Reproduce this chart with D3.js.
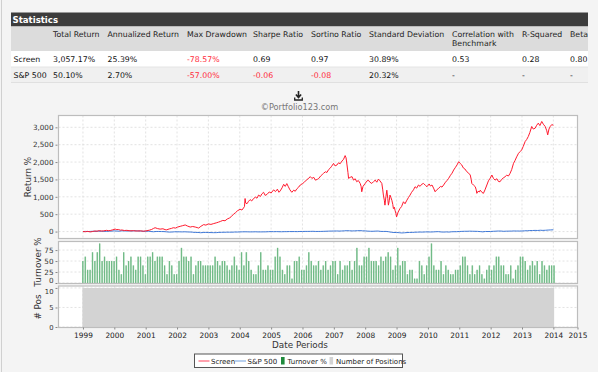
<!DOCTYPE html>
<html>
<head>
<meta charset="utf-8">
<script src="https://cdn.jsdelivr.net/npm/d3@7"></script>
<style>
  body { margin: 0; background: #f4f4f4; }
  svg { display: block; font-family: "DejaVu Sans", Verdana, sans-serif; }
</style>
</head>
<body>
<svg width="598" height="372"></svg>
<script>
// Statistics table
const statColumns = ["Total Return", "Annualized Return", "Max Drawdown", "Sharpe Ratio", "Sortino Ratio",
    "Standard Deviation", "Correlation with|Benchmark", "R-Squared", "Beta"]
const statRows = ["Screen", "S&P 500"]
const screenStats = ["3,057.17%", "25.39%", "-78.57%", "0.69", "0.97", "30.89%", "0.53", "0.28", "0.80"]
const spStats = ["50.10%", "2.70%", "-57.00%", "-0.06", "-0.08", "20.32%", "-", "-", "-"]

// Screen return % (decimal year, value)
const screenYears = [
    1999.00, 1999.08, 1999.15, 1999.23, 1999.30, 1999.38, 1999.45, 1999.52, 1999.60, 1999.66,
    1999.75, 1999.82, 1999.87, 1999.95, 2000.03, 2000.08, 2000.13, 2000.19, 2000.24, 2000.32,
    2000.40, 2000.50, 2000.61, 2000.70, 2000.83, 2000.93, 2001.04, 2001.12, 2001.19, 2001.25,
    2001.30, 2001.38, 2001.46, 2001.55, 2001.62, 2001.67, 2001.75, 2001.82, 2001.88, 2001.95,
    2002.02, 2002.10, 2002.18, 2002.26, 2002.33, 2002.42, 2002.50, 2002.58, 2002.64, 2002.69,
    2002.76, 2002.85, 2002.92, 2003.00, 2003.08, 2003.17, 2003.25, 2003.32, 2003.38, 2003.46,
    2003.53, 2003.60, 2003.67, 2003.73, 2003.80, 2003.86, 2003.93, 2004.01, 2004.07, 2004.12,
    2004.15, 2004.17, 2004.19, 2004.23, 2004.28, 2004.33, 2004.38, 2004.44, 2004.50, 2004.55,
    2004.60, 2004.66, 2004.70, 2004.76, 2004.81, 2004.87, 2004.94, 2005.00, 2005.08, 2005.14,
    2005.20, 2005.25, 2005.29, 2005.35, 2005.40, 2005.45, 2005.50, 2005.55, 2005.60, 2005.66,
    2005.72, 2005.77, 2005.82, 2005.88, 2005.93, 2006.00, 2006.06, 2006.12, 2006.18, 2006.25,
    2006.30, 2006.36, 2006.41, 2006.47, 2006.52, 2006.58, 2006.63, 2006.67, 2006.73, 2006.78,
    2006.83, 2006.88, 2006.93, 2006.99, 2007.04, 2007.10, 2007.15, 2007.20, 2007.26, 2007.31,
    2007.36, 2007.39, 2007.42, 2007.45, 2007.47, 2007.52, 2007.58, 2007.63, 2007.68, 2007.73,
    2007.78, 2007.84, 2007.87, 2007.89, 2007.93, 2008.00, 2008.05, 2008.10, 2008.15, 2008.21,
    2008.27, 2008.32, 2008.37, 2008.42, 2008.47, 2008.53, 2008.56, 2008.58, 2008.61, 2008.63,
    2008.66, 2008.69, 2008.72, 2008.74, 2008.77, 2008.79, 2008.82, 2008.85, 2008.88, 2008.90,
    2008.93, 2008.95, 2008.98, 2009.00, 2009.05, 2009.11, 2009.16, 2009.22, 2009.27, 2009.33,
    2009.38, 2009.43, 2009.48, 2009.54, 2009.59, 2009.64, 2009.70, 2009.75, 2009.80, 2009.86,
    2009.92, 2009.97, 2010.04, 2010.08, 2010.13, 2010.18, 2010.23, 2010.28, 2010.34, 2010.40,
    2010.45, 2010.50, 2010.56, 2010.61, 2010.66, 2010.72, 2010.77, 2010.82, 2010.88, 2010.93,
    2010.98, 2011.03, 2011.08, 2011.13, 2011.18, 2011.24, 2011.30, 2011.35, 2011.38, 2011.40,
    2011.45, 2011.51, 2011.54, 2011.56, 2011.60, 2011.64, 2011.67, 2011.72, 2011.77, 2011.82,
    2011.88, 2011.93, 2011.99, 2012.04, 2012.09, 2012.14, 2012.20, 2012.25, 2012.30, 2012.35,
    2012.40, 2012.46, 2012.51, 2012.57, 2012.62, 2012.67, 2012.73, 2012.78, 2012.83, 2012.89,
    2012.94, 2012.99, 2013.04, 2013.10, 2013.15, 2013.20, 2013.25, 2013.31, 2013.36, 2013.42,
    2013.47, 2013.52, 2013.57, 2013.63, 2013.68, 2013.74, 2013.79, 2013.82, 2013.86, 2013.90,
    2013.95, 2014.00]
const screenValues = [
    0, -5, 5, -10, 0, 15, 10, 25, 15, 20,
    35, 25, 30, 50, 70, 55, 60, 40, 45, 30,
    35, 20, 25, 15, 20, 10, 25, 40, 60, 90,
    110, 85, 70, 80, 55, 50, 75, 90, 110, 100,
    130, 150, 170, 190, 160, 130, 145, 130, 115, 100,
    150, 200, 185, 220, 205, 230, 250, 270, 290, 320,
    310, 360, 390, 430, 500, 540, 600, 640, 620, 680,
    720, 950, 820, 800, 870, 920, 880, 950, 990, 960,
    1050, 1010, 1080, 1130, 1040, 1070, 1140, 1110, 1200, 1150,
    1220, 1130, 1170, 1260, 1360, 1300, 1380, 1290, 1200, 1130,
    1190, 1160, 1230, 1280, 1340, 1380, 1420, 1480, 1520, 1580,
    1530, 1560, 1480, 1500, 1530, 1600, 1640, 1675, 1720, 1700,
    1780, 1820, 1880, 1960, 1890, 1916, 1980, 1950, 2030, 2080,
    2186, 2120, 1916, 1700, 1530, 1560, 1580, 1480, 1520, 1434,
    1470, 1385, 1300, 1145, 1300, 1385, 1450, 1480, 1420, 1385,
    1440, 1480, 1420, 1510, 1460, 1385, 1200, 1050, 900, 760,
    1000, 1190, 950, 760, 900, 1050, 980, 900, 780, 660,
    700, 615, 520, 422, 560, 664, 720, 857, 800, 904,
    980, 1048, 1130, 1200, 1290, 1250, 1340, 1300, 1360, 1385,
    1330, 1290, 1370, 1310, 1340, 1250, 1145, 1200, 1240, 1300,
    1280, 1340, 1420, 1470, 1530, 1620, 1680, 1770, 1850, 1920,
    2010, 1960, 1916, 1830, 1800, 1723, 1680, 1627, 1500, 1385,
    1340, 1290, 1200, 1100, 1160, 1140, 1190, 1130, 1100, 1200,
    1340, 1460, 1540, 1627, 1530, 1480, 1520, 1440, 1434, 1500,
    1540, 1578, 1620, 1600, 1675, 1780, 1964, 2050, 2150, 2253,
    2300, 2349, 2450, 2590, 2650, 2734, 2850, 3023, 2950, 2975,
    3060, 3120, 3050, 3168, 3090, 3023, 2900, 2782, 2950, 3023,
    3080, 3057]

// S&P 500 return %, monthly from Jan 1999
const spStart = 1999
const spValues = [0, 4, 1, 5, 9, 6, 12, 8, 7, 4, 11, 13,
    20, 13, 11, 22, 18, 16, 18, 16, 24, 17, 16, 7,
    7, 11, 1, -6, 2, 2, 0, -1, -8, -15, -14, -7,
    -7, -8, -10, -7, -12, -13, -19, -26, -25, -34, -28, -24,
    -28, -30, -32, -31, -25, -22, -21, -19, -18, -19, -14, -14,
    -10, -8, -7, -8, -10, -9, -7, -10, -10, -9, -8, -4,
    -1, -4, -2, -4, -6, -3, -3, 0, -1, 0, -2, 2,
    2, 4, 4, 5, 7, 3, 3, 4, 6, 9, 12, 14,
    15, 17, 14, 16, 21, 25, 22, 18, 20, 24, 26, 21,
    19, 12, 8, 8, 13, 14, 4, 3, 4, -5, -21, -27,
    -27, -33, -40, -35, -29, -25, -25, -20, -17, -14, -16, -11,
    -9, -13, -10, -5, -3, -11, -16, -10, -15, -7, -4, -4,
    2, 5, 8, 8, 11, 9, 7, 5, -1, -8, 2, 1,
    2, 7, 11, 15, 14, 7, 11, 12, 14, 17, 15, 15,
    16, 22, 23, 28, 30, 33, 31, 37, 33, 37, 43, 47,
    50]

// Turnover % per 4-week rebalance period from Jan 1999
const periodDays = 28
const turnoverValues = [
    50, 60, 30, 30, 70, 50, 70, 90, 50, 60,
    50, 50, 50, 50, 60, 30, 20, 70, 40, 50,
    60, 40, 30, 60, 60, 40, 20, 60, 60, 70,
    50, 60, 60, 60, 40, 20, 50, 40, 20, 20,
    50, 80, 60, 60, 50, 60, 20, 40, 50, 50,
    40, 40, 40, 40, 40, 60, 50, 40, 50, 50,
    40, 30, 40, 60, 40, 30, 70, 40, 70, 50,
    30, 20, 20, 40, 70, 30, 30, 40, 30, 30,
    60, 80, 60, 30, 20, 40, 40, 10, 50, 50,
    60,
    30, 30, 40, 70, 50, 40, 40, 50, 30,
    40, 50, 30, 40, 50, 50, 20, 50, 30, 40,
    40, 50, 30, 50, 80, 40, 40, 60, 60, 80,
    50, 50, 50, 40, 60, 50, 60, 70, 60, 30,
    40, 80, 40, 50, 50, 20, 30, 30, 10, 10,
    50, 40, 20, 40, 60, 90, 40, 30, 30, 50,
    20, 40, 30, 20, 20, 30, 30, 40, 60,
    60, 40, 20, 40, 20, 30, 40, 20, 10, 30,
    40, 30, 40, 60, 60, 40, 40, 20, 20, 40,
    10, 30, 40, 60, 60, 50, 30, 40, 50,
    40, 50, 20, 50, 40, 30, 40, 40, 40]
const positionsValue = 10

const xTickYears = d3.range(1999, 2015)
const legendItems = [
    { label: "Screen", type: "line", color: "#ff8a98" },
    { label: "S&P 500", type: "line", color: "#a8c4ea" },
    { label: "Turnover %", type: "box", color: "#1f8a3c" },
    { label: "Number of Positions", type: "box", color: "#d3d3d3" }
]

const svg = d3.select("svg")

// page frame
svg.append("line").attr("x1", 1.5).attr("x2", 1.5).attr("y1", 0).attr("y2", 372)
    .attr("stroke", "#d0d0d0")

// ---------- statistics table ----------
const tableLeft = 11, tableRight = 588
const colX = [53, 107.5, 187, 253, 311, 369, 452, 522, 570]
const table = svg.append("g")

table.append("rect").attr("x", tableLeft).attr("y", 12.5).attr("width", tableRight - tableLeft).attr("height", 14)
    .attr("fill", "#3c3c3c")
table.append("text").attr("x", 12.5).attr("y", 22.8).text("Statistics")
    .attr("fill", "white").attr("font-weight", "bold").attr("font-size", "8.6px")
table.append("rect").attr("x", tableLeft).attr("y", 26.5).attr("width", tableRight - tableLeft).attr("height", 24.5)
    .attr("fill", "#dcdcdc")
table.append("rect").attr("x", tableLeft).attr("y", 51).attr("width", tableRight - tableLeft).attr("height", 16)
    .attr("fill", "#ffffff")
table.append("rect").attr("x", tableLeft).attr("y", 67).attr("width", tableRight - tableLeft).attr("height", 15.5)
    .attr("fill", "#f0f0f0")
table.append("line").attr("x1", tableLeft).attr("x2", tableRight).attr("y1", 67).attr("y2", 67).attr("stroke", "#e4e4e4")
table.append("line").attr("x1", tableLeft).attr("x2", tableRight).attr("y1", 82.5).attr("y2", 82.5).attr("stroke", "#e0e0e0")

statColumns.forEach(function(c, i) {
    c.split("|").forEach(function(part, j) {
        table.append("text").attr("x", colX[i]).attr("y", 36.8 + j * 9.4).text(part)
            .attr("font-size", "7.8px").attr("fill", "#222")
    })
})
const rowY = [62, 77.5]
;[screenStats, spStats].forEach(function(vals, r) {
    table.append("text").attr("x", 13.5).attr("y", rowY[r]).text(statRows[r])
        .attr("font-size", "7.8px").attr("fill", "#111")
    vals.forEach(function(v, i) {
        table.append("text").attr("x", colX[i]).attr("y", rowY[r]).text(v)
            .attr("font-size", "7.8px")
            .attr("fill", v.startsWith("-") && v.length > 1 ? "#ff2a3a" : "#111")
    })
})

// ---------- download icon + copyright ----------
const icon = svg.append("g").attr("transform", "translate(298.5, 91)")
icon.append("path").attr("d", "M0,0 V6 M-2.6,3.6 L0,6.6 L2.6,3.6").attr("stroke", "#222")
    .attr("stroke-width", 1.6).attr("fill", "none")
icon.append("path").attr("d", "M-3.8,6.5 V9 H3.8 V6.5").attr("stroke", "#222").attr("stroke-width", 1.3).attr("fill", "none")
svg.append("text").attr("x", 299.5).attr("y", 110).attr("text-anchor", "middle")
    .text("\u00A9Portfolio123.com").attr("font-size", "8.2px").attr("fill", "#777")

// ---------- chart ----------
const left = 58.5, right = 577.5
const x = d3.scaleLinear().domain([1998.22, 2014.77]).range([left, right])

const panels = {
    ret: { top: 115.5, bottom: 238.5 },
    turn: { top: 241.5, bottom: 283.5 },
    pos: { top: 286, bottom: 327.5 }
}
const yRet = d3.scaleLinear().domain([-200, 3340]).range([panels.ret.bottom, panels.ret.top])
const yTurn = d3.scaleLinear().domain([0, 94.5]).range([283, panels.turn.top])
const yPos = d3.scaleLinear().domain([0, 10.5]).range([327, panels.pos.top])

const xTicks = xTickYears.concat([x.domain()[1]])

function drawPanel(p, yScale, yTicks, fmt) {
    const g = svg.append("g")
    g.append("rect").attr("x", left).attr("y", p.top).attr("width", right - left).attr("height", p.bottom - p.top)
        .attr("fill", "white")
    // grid
    g.selectAll(".vg").data(xTickYears).enter().append("line")
        .attr("x1", d => x(d)).attr("x2", d => x(d)).attr("y1", p.top).attr("y2", p.bottom)
        .attr("stroke", "#dcdcdc").attr("stroke-width", 0.8).attr("stroke-dasharray", "2,2")
    g.selectAll(".hg").data(yTicks).enter().append("line")
        .attr("x1", left).attr("x2", right).attr("y1", d => yScale(d)).attr("y2", d => yScale(d))
        .attr("stroke", "#dcdcdc").attr("stroke-width", 0.8).attr("stroke-dasharray", "2,2")
    // y axis
    const ax = svg.append("g").attr("transform", "translate(" + (left - 1) + ",0)")
        .call(d3.axisLeft(yScale).tickValues(yTicks).tickFormat(fmt).tickSize(2).tickPadding(2))
    ax.select(".domain").remove()
    ax.selectAll("line").attr("stroke", "#888")
    ax.selectAll("text").attr("font-size", "7.2px").attr("fill", "#333").attr("font-family", "DejaVu Sans")
    return ax
}

function drawFrame(p) {
    svg.append("rect").attr("x", left).attr("y", p.top).attr("width", right - left).attr("height", p.bottom - p.top)
        .attr("fill", "none").attr("stroke", "#bdbdbd").attr("stroke-width", 1.2)
}

// Return panel
drawPanel(panels.ret, yRet, [0, 500, 1000, 1500, 2000, 2500, 3000], d3.format(","))
svg.append("clipPath").attr("id", "retClip").append("rect")
    .attr("x", left).attr("y", panels.ret.top).attr("width", right - left).attr("height", panels.ret.bottom - panels.ret.top)

const spPoints = spValues.map((v, i) => [spStart + i / 12, v])
const screenPoints = screenYears.map((yr, i) => [yr, screenValues[i]])

svg.append("path").datum(spPoints).attr("clip-path", "url(#retClip)")
    .attr("d", d3.line().x(d => x(d[0])).y(d => yRet(d[1])))
    .attr("fill", "none").attr("stroke", "#3f78d6").attr("stroke-width", 1)
svg.append("path").datum(screenPoints).attr("clip-path", "url(#retClip)")
    .attr("d", d3.line().x(d => x(d[0])).y(d => yRet(d[1])))
    .attr("fill", "none").attr("stroke", "#ff1a2e").attr("stroke-width", 1)
drawFrame(panels.ret)

// Turnover panel
const turnAxis = drawPanel(panels.turn, yTurn, [0, 25, 50, 75], d3.format("d"))
// the bottom "0" sits right above the next panel's "10", nudge it up a little
turnAxis.selectAll("text").filter(d => d === 0).attr("dy", "-0.1em")
const periodYear = periodDays / 365.25
svg.append("g").selectAll("rect").data(turnoverValues).enter().append("rect")
    .attr("x", (d, i) => x(1999 + i * periodYear) - 0.6)
    .attr("y", d => yTurn(d))
    .attr("width", 1.3)
    .attr("height", d => yTurn(0) - yTurn(d))
    .attr("fill", "#8fcc9f")
svg.append("g").selectAll("line").data(turnoverValues).enter().append("line")
    .attr("x1", (d, i) => x(1999 + i * periodYear) - 0.3)
    .attr("x2", (d, i) => x(1999 + i * periodYear) - 0.3)
    .attr("y1", d => yTurn(d))
    .attr("y2", yTurn(0))
    .attr("stroke", "#4ea66a").attr("stroke-width", 0.6)
drawFrame(panels.turn)

// Positions panel
const posAxis = drawPanel(panels.pos, yPos, [0, 5, 10], d3.format("d"))
posAxis.selectAll("text").attr("font-size", "6.8px")
posAxis.selectAll("text").filter(d => d === 10).attr("dy", "0.8em")
const posArea = d3.area().x(d => x(d[0])).y0(yPos(0)).y1(d => yPos(d[1]))
const posStart = 1999 - periodYear / 4
const posEnd = 1999 + (turnoverValues.length - 1) * periodYear
svg.append("path").datum([[posStart, positionsValue], [posEnd, positionsValue]])
    .attr("d", posArea).attr("fill", "#d3d3d3")
drawFrame(panels.pos)

// x axis
const xAxis = svg.append("g").attr("transform", "translate(0," + (panels.pos.bottom) + ")")
    .call(d3.axisBottom(x).tickValues(xTicks).tickFormat((d, i) => i < xTickYears.length ? d : "2015")
        .tickSize(2).tickPadding(3))
xAxis.select(".domain").remove()
xAxis.selectAll("line").attr("stroke", "#888")
xAxis.selectAll("text").attr("font-size", "7.4px").attr("fill", "#222").attr("font-family", "DejaVu Sans")

// axis titles
svg.append("text").attr("x", 300).attr("y", 348).attr("text-anchor", "middle")
    .text("Date Periods").attr("font-size", "8.8px").attr("fill", "#333")
const yTitles = [
    { text: "Return %", x: 31, y: 177 },
    { text: "Turnover %", x: 41, y: 262 },
    { text: "# Pos", x: 41, y: 307 }
]
yTitles.forEach(function(t) {
    svg.append("text").attr("transform", "translate(" + t.x + "," + t.y + ") rotate(-90)")
        .attr("text-anchor", "middle").text(t.text).attr("font-size", "8.8px").attr("fill", "#333")
})

// legend
const legend = svg.append("g")
legend.append("rect").attr("x", 194.5).attr("y", 354).attr("width", 208).attr("height", 13.5)
    .attr("fill", "white").attr("stroke", "#555").attr("stroke-width", 1)
const legendX = [198.5, 235, 281, 329.5]
legendItems.forEach(function(item, i) {
    if (item.type === "line") {
        legend.append("line").attr("x1", legendX[i]).attr("x2", legendX[i] + 11).attr("y1", 361).attr("y2", 361)
            .attr("stroke", item.color).attr("stroke-width", 1.6)
        legend.append("text").attr("x", legendX[i] + 12.5).attr("y", 363.5).text(item.label)
            .attr("font-size", "7px").attr("fill", "#222")
    } else {
        legend.append("rect").attr("x", legendX[i]).attr("y", 357).attr("width", 3.6).attr("height", 7.5)
            .attr("fill", item.color)
        legend.append("text").attr("x", legendX[i] + 6.5).attr("y", 363.5).text(item.label)
            .attr("font-size", "7px").attr("fill", "#222")
    }
})
</script>
</body>
</html>
